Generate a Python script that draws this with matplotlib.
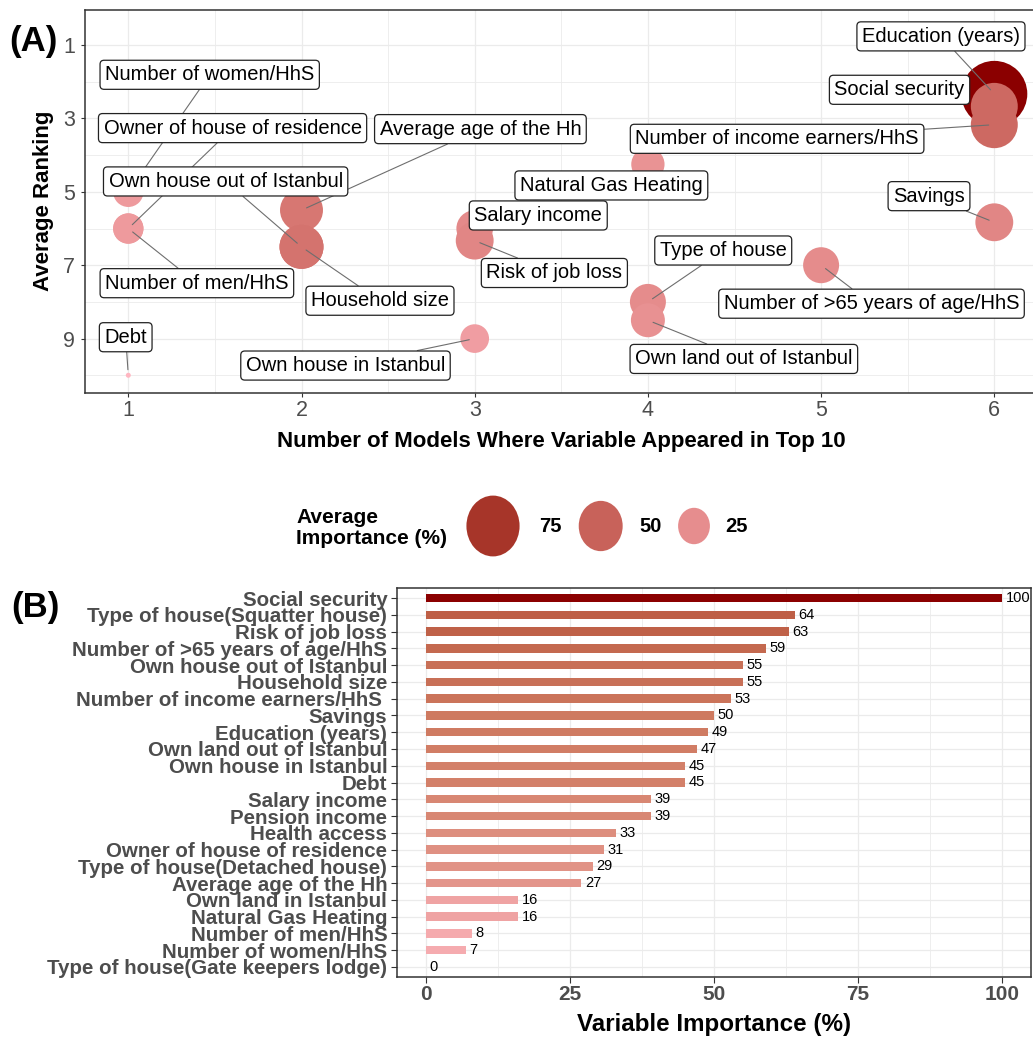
import numpy as np
import matplotlib
matplotlib.use("Agg")
import matplotlib.pyplot as plt
from matplotlib.patches import Ellipse
from matplotlib.ticker import FixedLocator

plt.rcParams['font.family'] = ['Liberation Sans', 'DejaVu Sans']

# ---------------- data: panel A (bubble chart) ----------------
bubble_vars = ["Education (years)", "Social security", "Number of income earners/HhS",
               "Natural Gas Heating", "Number of women/HhS", "Average age of the Hh",
               "Savings", "Salary income", "Owner of house of residence", "Number of men/HhS",
               "Risk of job loss", "Own house out of Istanbul", "Household size",
               "Number of >65 years of age/HhS", "Type of house", "Own land out of Istanbul",
               "Own house in Istanbul", "Debt"]
n_models = [6, 6, 6, 4, 1, 2, 6, 3, 1, 1, 3, 2, 2, 5, 4, 4, 3, 1]
avg_rank = [2.33, 2.67, 3.17, 4.25, 5.0, 5.5, 5.83, 6.0, 6.0, 6.0, 6.33, 6.5, 6.5, 7.0,
            8.0, 8.5, 9.0, 10.0]
avg_importance = [95, 46, 46, 22, 18, 38, 29, 27, 18, 18, 29, 40, 40, 26, 26, 23, 16, 2]
legend_breaks = [75, 50, 25]

# ---------------- data: panel B (bar chart) ----------------
bar_vars = ["Social security", "Type of house(Squatter house)", "Risk of job loss",
            "Number of >65 years of age/HhS", "Own house out of Istanbul", "Household size",
            "Number of income earners/HhS ", "Savings", "Education (years)",
            "Own land out of Istanbul", "Own house in Istanbul", "Debt", "Salary income",
            "Pension income", "Health access", "Owner of house of residence",
            "Type of house(Detached house)", "Average age of the Hh", "Own land in Istanbul",
            "Natural Gas Heating", "Number of men/HhS", "Number of women/HhS",
            "Type of house(Gate keepers lodge)"]
bar_importance = [100, 64, 63, 59, 55, 55, 53, 50, 49, 47, 45, 45, 39, 39, 33, 31, 29, 27,
                  16, 16, 8, 7, 0]

# label placement for the repelled labels (data coordinates)
LABEL_POS = {
    "Education (years)": (5.692, 0.763),
    "Social security": (5.453, 2.219),
    "Number of income earners/HhS": (4.746, 3.555),
    "Savings": (5.623, 5.118),
    "Type of house": (4.435, 6.599),
    "Number of >65 years of age/HhS": (5.291, 8.049),
    "Own land out of Istanbul": (4.554, 9.555),
    "Number of women/HhS": (1.470, 1.810),
    "Owner of house of residence": (1.602, 3.263),
    "Average age of the Hh": (3.033, 3.291),
    "Own house out of Istanbul": (1.562, 4.717),
    "Number of men/HhS": (1.396, 7.490),
    "Household size": (2.453, 7.968),
    "Debt": (0.985, 8.963),
    "Own house in Istanbul": (2.254, 9.735),
    "Salary income": (3.367, 5.644),
    "Risk of job loss": (3.460, 7.212),
    "Natural Gas Heating": (3.789, 4.826),
}
NO_SEGMENT = {"Social security", "Natural Gas Heating", "Salary income"}


# ---------------- colour ramps in CIELAB ----------------
_M = np.array([[0.4124564, 0.3575761, 0.1804375],
               [0.2126729, 0.7151522, 0.0721750],
               [0.0193339, 0.1191920, 0.9503041]])
_WHITE = np.array([0.95047, 1.0, 1.08883])


def _hex2lab(h):
    rgb = np.array([int(h[i:i + 2], 16) for i in (1, 3, 5)]) / 255.0
    lin = np.where(rgb <= 0.04045, rgb / 12.92, ((rgb + 0.055) / 1.055) ** 2.4)
    xyz = _M @ lin / _WHITE
    d = 6 / 29
    f = np.where(xyz > d ** 3, np.cbrt(xyz), xyz / (3 * d * d) + 4 / 29)
    return np.array([116 * f[1] - 16, 500 * (f[0] - f[1]), 200 * (f[1] - f[2])])


def _lab2rgb(lab):
    d = 6 / 29
    fy = (lab[0] + 16) / 116
    f = np.array([fy + lab[1] / 500, fy, fy - lab[2] / 200])
    xyz = np.where(f > d, f ** 3, 3 * d * d * (f - 4 / 29)) * _WHITE
    lin = np.clip(np.linalg.solve(_M, xyz), 0, 1)
    rgb = np.where(lin <= 0.0031308, 12.92 * lin, 1.055 * lin ** (1 / 2.4) - 0.055)
    return tuple(np.clip(rgb, 0, 1))


def make_ramp(stops):
    pos = np.array([p for p, _ in stops])
    labs = np.array([_hex2lab(c) for _, c in stops])

    def ramp(t):
        t = float(np.clip(t, 0, 1))
        lab = np.array([np.interp(t, pos, labs[:, k]) for k in range(3)])
        return _lab2rgb(lab)
    return ramp


bubble_ramp = make_ramp([(0.0, "#FFB6C1"), (1.0, "#8B0000")])
bar_ramp = make_ramp([(0.0, "#FAB2B8"), (0.16, "#EFA3A3"), (0.32, "#DE8F80"),
                      (0.5, "#CE7A60"), (0.64, "#BE5F46"), (1.0, "#8B0000")])

# ---------------- figure ----------------
W, H = 1033, 1038
fig = plt.figure(figsize=(W / 100, H / 100), dpi=100)
fig.patch.set_facecolor("white")


def box(l, t, r, b):
    return [l / W, 1 - b / H, (r - l) / W, (b - t) / H]


GRID = "#EBEBEB"
TICKCOL = "#4D4D4D"
FRAME = "#333333"

# ---- panel A ----
ax1 = fig.add_axes(box(85, 10, 1037.6, 392.7))
ax1.set_xlim(0.75, 6.25)
ax1.set_ylim(10.475, 0.044)
ax1.xaxis.set_major_locator(FixedLocator([1, 2, 3, 4, 5, 6]))
ax1.xaxis.set_minor_locator(FixedLocator([1.5, 2.5, 3.5, 4.5, 5.5]))
ax1.yaxis.set_major_locator(FixedLocator([1, 3, 5, 7, 9]))
ax1.yaxis.set_minor_locator(FixedLocator([2, 4, 6, 8, 10]))
ax1.grid(which="major", color=GRID, lw=0.9, zorder=0)
ax1.grid(which="minor", color=GRID, lw=0.6, zorder=0)
ax1.set_axisbelow(True)
ax1.tick_params(which="major", length=3, width=0.8, color=FRAME, labelsize=15.5,
                labelcolor=TICKCOL)
ax1.tick_params(axis="x", pad=2)
ax1.tick_params(axis="y", pad=4)
ax1.tick_params(which="minor", length=0)
for s in ax1.spines.values():
    s.set_color(FRAME)
    s.set_linewidth(1.1)

vmin, vmax = min(avg_importance), max(avg_importance)


def diam_px(v):
    return 5 + 61 * np.sqrt((v - vmin) / (vmax - vmin))


def bubble_color(v):
    return bubble_ramp((v - vmin) / (vmax - vmin))


sizes = [(diam_px(v) * 0.72) ** 2 for v in avg_importance]
cols = [bubble_color(v) for v in avg_importance]
ax1.scatter(n_models, avg_rank, s=sizes, c=cols, linewidths=0, zorder=3)

for name, xm, yr in zip(bubble_vars, n_models, avg_rank):
    lx, ly = LABEL_POS[name]
    arrow = None if name in NO_SEGMENT else dict(arrowstyle="-", color="#6E6E6E", lw=0.8,
                                                  shrinkA=0, shrinkB=4)
    ax1.annotate(name, xy=(xm, yr), xytext=(lx, ly), textcoords="data",
                 ha="center", va="center", fontsize=14.5, color="black",
                 bbox=dict(boxstyle="round,pad=0.25,rounding_size=0.2", fc="white",
                           ec="#222222", lw=0.9),
                 arrowprops=arrow, zorder=5, annotation_clip=False)

# ---- panel B ----
ax2 = fig.add_axes(box(397, 588, 1031, 977))
n = len(bar_vars)
ypos = np.arange(n)[::-1]
ax2.set_xlim(-5, 105)
ax2.set_ylim(-0.6, n - 1 + 0.6)
bar_cols = [bar_ramp(v / 100) for v in bar_importance]
ax2.barh(ypos, bar_importance, height=0.5, color=bar_cols, zorder=3)
for y, v in zip(ypos, bar_importance):
    ax2.annotate(f"{v}", xy=(v, y), xytext=(2.5, 0), textcoords="offset points",
                 ha="left", va="center", fontsize=10.5, color="black", zorder=4,
                 annotation_clip=False)
ax2.set_yticks(ypos)
ax2.set_yticklabels(bar_vars)
ax2.xaxis.set_major_locator(FixedLocator([0, 25, 50, 75, 100]))
ax2.xaxis.set_minor_locator(FixedLocator([12.5, 37.5, 62.5, 87.5]))
ax2.grid(which="major", color=GRID, lw=0.9, zorder=0)
ax2.grid(which="minor", axis="x", color=GRID, lw=0.6, zorder=0)
ax2.set_axisbelow(True)
ax2.tick_params(which="major", length=4, width=0.8, color=FRAME, labelcolor=TICKCOL)
ax2.tick_params(axis="y", labelsize=14.8, pad=3)
ax2.tick_params(axis="x", labelsize=15, pad=2)
ax2.tick_params(which="minor", length=0)
for lab in ax2.get_yticklabels() + ax2.get_xticklabels():
    lab.set_fontweight("bold")
for s in ax2.spines.values():
    s.set_color(FRAME)
    s.set_linewidth(1.1)

# ---- overlay for titles, panel tags and the size legend (pixel coordinates) ----
ov = fig.add_axes([0, 0, 1, 1], zorder=10)
ov.set_xlim(0, W)
ov.set_ylim(H, 0)
ov.axis("off")
ov.patch.set_alpha(0)

ov.text(33.5, 41.7, "(A)", fontsize=25, fontweight="bold", ha="center", va="center")
ov.text(35, 607.5, "(B)", fontsize=25, fontweight="bold", ha="center", va="center")
ov.text(44, 201, "Average Ranking", fontsize=16, fontweight="bold", rotation=90,
        ha="center", va="center")
ov.text(561, 441.7, "Number of Models Where Variable Appeared in Top 10", fontsize=16,
        fontweight="bold", ha="center", va="center")
ov.text(714, 1025, "Variable Importance (%)", fontsize=17.4, fontweight="bold",
        ha="center", va="center")

ov.text(296, 528, "Average\nImportance (%)", fontsize=15, fontweight="bold", ha="left",
        va="center", linespacing=1.1)
leg_x = [493, 600.7, 694]
txt_x = [550.5, 651, 736]
for v, cx, tx in zip(legend_breaks, leg_x, txt_x):
    d = diam_px(v)
    ov.add_patch(Ellipse((cx, 526), d * 0.9, d * 1.03, color=bubble_color(v), lw=0))
    ov.text(tx, 527, f"{v}", fontsize=14.5, fontweight="bold", ha="center", va="center")

fig.savefig("out.png", dpi=100)
